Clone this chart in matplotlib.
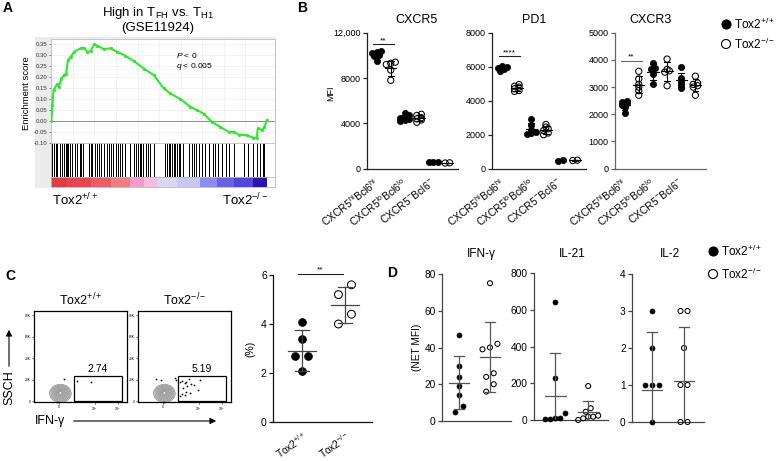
import matplotlib
matplotlib.use('Agg')
import matplotlib.pyplot as plt
import numpy as np
from matplotlib.patches import Ellipse, Rectangle
from matplotlib.transforms import ScaledTranslation

W, H = 780, 461

plt.rcParams['font.family'] = ['Liberation Sans', 'DejaVu Sans']
plt.rcParams['mathtext.fontset'] = 'custom'
plt.rcParams['mathtext.rm'] = 'Liberation Sans'
plt.rcParams['mathtext.it'] = 'Liberation Sans:italic'
plt.rcParams['mathtext.bf'] = 'Liberation Sans:bold'

# ---- A: GSEA running enrichment score
gsea_rank = [0, 0.005, 0.01, 0.025, 0.035, 0.046, 0.059, 0.069, 0.077, 0.09, 0.105, 0.136,
             0.151, 0.167, 0.182, 0.198, 0.213, 0.244, 0.275, 0.306, 0.344, 0.383, 0.429,
             0.475, 0.522, 0.552, 0.599, 0.645, 0.676, 0.707, 0.745, 0.784, 0.823, 0.846,
             0.869, 0.907, 0.938, 0.954, 0.958, 0.977, 0.989, 1.0]
gsea_es = [0, 0.072, 0.141, 0.167, 0.156, 0.194, 0.210, 0.217, 0.278, 0.294, 0.316, 0.332,
           0.335, 0.316, 0.319, 0.350, 0.344, 0.329, 0.332, 0.316, 0.298, 0.274, 0.240,
           0.210, 0.149, 0.126, 0.100, 0.065, 0.049, 0.034, -0.004, -0.027, -0.050, -0.050,
           -0.062, -0.065, -0.076, -0.077, -0.034, -0.042, -0.027, 0.003]
gsea_hits = [0.005, 0.012, 0.020, 0.028, 0.040, 0.051, 0.059, 0.066, 0.071, 0.077, 0.086,
             0.097, 0.108, 0.120, 0.133, 0.139, 0.148, 0.174, 0.182, 0.190, 0.201, 0.210,
             0.221, 0.231, 0.244, 0.256, 0.267, 0.275, 0.287, 0.298, 0.309, 0.318, 0.329,
             0.344, 0.367, 0.383, 0.395, 0.401, 0.410, 0.418, 0.426, 0.437, 0.448, 0.457,
             0.478, 0.529, 0.537, 0.545, 0.552, 0.560, 0.568, 0.576, 0.583, 0.591, 0.599,
             0.611, 0.637, 0.653, 0.664, 0.673, 0.684, 0.699, 0.715, 0.730, 0.750, 0.761,
             0.772, 0.792, 0.812, 0.826, 0.846, 0.892, 0.915, 0.938, 0.954, 0.969, 0.980, 0.989]
rank_edges = [0, 0.074, 0.182, 0.275, 0.367, 0.43, 0.49, 0.583, 0.691, 0.769, 0.846, 0.938, 1.0]
rank_colors = ['#e63a3e', '#ea4450', '#ee5a66', '#f27c86', '#f29ccc', '#f6bce2',
               '#dcd6f6', '#c8c6f6', '#8c8cf2', '#6a60ea', '#5444de', '#2a12b4']

# ---- B: MFI per population
b_groups = ['CXCR5$^{\\mathrm{hi}}$Bcl6$^{\\mathrm{hi}}$',
            'CXCR5$^{\\mathrm{lo}}$Bcl6$^{\\mathrm{lo}}$',
            'CXCR5$^{-}$Bcl6$^{-}$']
cxcr5_wt = [[10400, 10300, 10200, 10000, 9900, 9500], [4900, 4700, 4600, 4500, 4400, 4300, 4200], [600, 600, 550]]
cxcr5_ko = [[9400, 9300, 9200, 8700, 7800], [4800, 4700, 4500, 4400, 4300, 4100], [500, 520]]
pd1_wt = [[6050, 6000, 5950, 5900, 5850, 5750], [2900, 2550, 2300, 2150, 2100, 2050], [500, 480]]
pd1_ko = [[4950, 4850, 4800, 4700, 4600, 4550], [2600, 2450, 2350, 2250, 2100, 2000], [500, 480]]
cxcr3_wt = [[2500, 2450, 2400, 2350, 2250, 2050], [3900, 3700, 3650, 3480, 3100], [3750, 3350, 3250, 3150, 3050, 2950]]
cxcr3_ko = [[3580, 3300, 3100, 3000, 2870, 2700], [4030, 3650, 3600, 3550, 3050], [3400, 3150, 3100, 3050, 3000, 2700]]

# ---- C: flow plots and % IFN-g+
flow_wt_x = [2.61, 3.19, 3.84, 2.33]
flow_wt_y = [20.6, 18.8, 18.2, -0.5]
flow_ko_x = [2.08, 2.31, 2.93, 3.00, 3.15, 3.25, 3.37, 3.44, 3.55, 3.48, 3.63, 3.29, 3.44,
             3.78, 3.96, 3.61, 4.03, 3.37, 3.25, 3.15, 2.45]
flow_ko_y = [20.6, 19.7, 21.8, 19.4, 17.5, 18.8, 16.6, 18.1, 20.6, 14.4, 15.7, 12.0, 8.9,
             15.0, 10.4, 7.3, 19.7, 5.8, 6.5, 4.9, -0.5]
flow_pct = ['2.74', '5.19']
pct_wt = [4.1, 3.4, 2.7, 2.7, 2.1]
pct_ko = [5.6, 5.2, 4.4, 4.0]
pct_mean = [2.91, 4.78]
pct_sd = [0.84, 0.72]

# ---- D: cytokine NET MFI
ifn_wt = [47, 30, 24, 19, 14, 8, 5]
ifn_ko = [75, 42, 40, 39, 26, 24, 20, 16]
ifn_mean = [20.9, 35.0]
ifn_sd = [14.5, 19.0]
il21_wt = [640, 231, 36, 9, 4, 4, 9]
il21_ko = [185, 64, 45, 24, 18, 18, 9, 0]
il21_mean = [131, 42]
il21_sd = [236, 63]
il2_wt = [3, 2, 1, 1, 1, 0]
il2_ko = [3, 3, 2, 1, 1, 0, 0]
il2_mean = [0.86, 1.12]
il2_sd = [1.58, 1.45]

WT = 'Tox2$^{+/+}$'
KO = 'Tox2$^{-/-}$'


def px_rect(x, y, w, h):
    return [x / W, 1 - (y + h) / H, w / W, h / H]


def style_prism(ax, color='#222222', labelsize=6.5):
    for s in ['top', 'right']:
        ax.spines[s].set_visible(False)
    for s in ['left', 'bottom']:
        ax.spines[s].set_color(color)
        ax.spines[s].set_linewidth(0.9)
    ax.tick_params(axis='y', direction='out', length=3, width=0.9, color=color,
                   labelsize=labelsize, pad=1.5)
    ax.patch.set_alpha(0)


def swarm(ax, x0, vals, tol, gap):
    tr = ax.transData
    ys = [tr.transform((x0, v))[1] for v in vals]
    order = np.argsort(ys)
    rows, row = [], []
    for i in order:
        if row and ys[i] - ys[row[0]] < tol:
            row.append(i)
        else:
            if row:
                rows.append(row)
            row = [i]
    rows.append(row)
    offs = np.zeros(len(vals))
    for r in rows:
        for k, i in enumerate(r):
            offs[i] = (k - (len(r) - 1) / 2) * gap
    px0 = tr.transform((x0, 0))[0]
    inv = tr.inverted()
    return [inv.transform((px0 + o, 0))[0] for o in offs]


def dots(ax, x0, vals, filled, size, tol, gap):
    xs = swarm(ax, x0, vals, tol, gap)
    if filled:
        ax.scatter(xs, vals, s=size, c='black', edgecolors='black', linewidths=0.5,
                   zorder=3, clip_on=False)
    else:
        ax.scatter(xs, vals, s=size, facecolors='none', edgecolors='black', linewidths=0.75,
                   zorder=3, clip_on=False)


def mean_sd(ax, x, m, s, hw, cw, color='#333333', lw=0.9):
    ax.plot([x - hw, x + hw], [m, m], color=color, lw=lw, zorder=4)
    ax.plot([x, x], [m - s, m + s], color=color, lw=lw, zorder=4)
    ax.plot([x - cw, x + cw], [m + s, m + s], color=color, lw=lw, zorder=4)
    ax.plot([x - cw, x + cw], [m - s, m - s], color=color, lw=lw, zorder=4)


def shift_labels(ax, dx_px, dy_px=0):
    for lbl in ax.get_xticklabels():
        lbl.set_transform(lbl.get_transform() +
                          ScaledTranslation(dx_px / 100, dy_px / 100, fig.dpi_scale_trans))


fig = plt.figure(figsize=(W / 100, H / 100), dpi=100)

# ================= A =================
bg = fig.add_axes(px_rect(35, 37, 241, 151))
bg.set_facecolor('#ebebeb')
bg.set_xticks([])
bg.set_yticks([])
for s in bg.spines.values():
    s.set_visible(False)

es_ax = fig.add_axes(px_rect(50.7, 39, 224.3, 104.3))
es_ax.set_facecolor('white')
es_ax.plot(gsea_rank, gsea_es, color='#2ee82e', lw=1.5, marker='s', ms=1.1, zorder=3)
es_ax.axhline(0, color='#8c8c8c', lw=0.7)
es_ax.set_xlim(-0.003, 1.038)
es_ax.set_ylim(-0.102, 0.375)
es_ax.set_yticks(np.arange(-0.10, 0.36, 0.05))
es_ax.set_yticklabels(['%.2f' % v for v in np.arange(-0.10, 0.36, 0.05)])
es_ax.set_xticks(np.arange(0.1, 1.0, 0.1))
es_ax.set_xticklabels([])
es_ax.tick_params(axis='y', labelsize=4.3, length=1.5, width=0.4, pad=1, colors='#333333')
es_ax.tick_params(axis='x', length=0)
es_ax.grid(color='#eeeeee', lw=0.5)
for s in es_ax.spines.values():
    s.set_color('#bdbdbd')
    s.set_linewidth(0.6)

hit_ax = fig.add_axes(px_rect(50.7, 143.3, 224.3, 33.4))
hit_ax.vlines(gsea_hits, 0, 1, color='black', lw=0.7)
hit_ax.set_xlim(-0.003, 1.038)
hit_ax.set_ylim(0, 1)
hit_ax.set_xticks([])
hit_ax.set_yticks([])
for s in hit_ax.spines.values():
    s.set_color('#bdbdbd')
    s.set_linewidth(0.6)

bar_ax = fig.add_axes(px_rect(50.7, 176.7, 224.3, 10))
for i, c in enumerate(rank_colors):
    bar_ax.axvspan(rank_edges[i], rank_edges[i + 1], color=c, lw=0)
bar_ax.set_xlim(-0.003, 1.038)
bar_ax.set_xticks([])
bar_ax.set_yticks([])
for s in bar_ax.spines.values():
    s.set_color('#bdbdbd')
    s.set_linewidth(0.6)

# ================= B =================
def b_panel(x0, w, title, tx, wt, ko, ymax, yticks, yticklabels, sig_y, sig_txt, color):
    ax = fig.add_axes(px_rect(x0, 32.7, w, 136))
    ax.set_xlim(-0.7, 5.75)
    ax.set_ylim(0, ymax)
    style_prism(ax, color)
    for i in range(3):
        for j, (vals, filled) in enumerate([(wt[i], True), (ko[i], False)]):
            x = 2 * i + j
            dots(ax, x, vals, filled, 20, 2.5, 4.5)
            mean_sd(ax, x, np.mean(vals), np.std(vals, ddof=1), 0.4, 0.2, 'black', 0.8)
    ax.plot([-0.25, 1.2], [sig_y, sig_y], color=color, lw=0.8, clip_on=False)
    ax.text(0.47, sig_y, sig_txt, ha='center', va='bottom', fontsize=6)
    ax.set_yticks(yticks)
    ax.set_yticklabels(yticklabels)
    ax.set_xticks([0.5, 2.5, 4.5])
    ax.set_xticklabels(b_groups, rotation=38, ha='right', va='top',
                       rotation_mode='anchor', fontsize=7.5)
    ax.tick_params(axis='x', length=0, pad=5)
    shift_labels(ax, -11)
    fig.text(tx / W, 1 - 20 / H, title, ha='center', va='center', fontsize=9)
    return ax


b_panel(366.7, 91.3, 'CXCR5', 416, cxcr5_wt, cxcr5_ko, 12000, [0, 4000, 8000, 12000],
        ['0', '4000', '8000', '12,000'], 11000, '**', '#222222')
b_panel(492, 94, 'PD1', 534, pd1_wt, pd1_ko, 8000, [0, 2000, 4000, 6000, 8000],
        ['0', '2000', '4000', '6000', '8000'], 6600, '****', '#222222')
b_panel(614.7, 91.3, 'CXCR3', 651, cxcr3_wt, cxcr3_ko, 5000, [0, 1000, 2000, 3000, 4000, 5000],
        ['0', '1000', '2000', '3000', '4000', '5000'], 3970, '**', '#666666')

# ================= C =================
for k, (x0, fx, fy) in enumerate([(34, flow_wt_x, flow_wt_y), (138, flow_ko_x, flow_ko_y)]):
    fa = fig.add_axes(px_rect(x0, 310.7, 93, 91.6))
    fa.set_xlim(1.3, 5.42)
    fa.set_ylim(-1, 84)
    base = Ellipse((2.47, 7.3), 0.96, 17, facecolor='#d2d2d2', edgecolor='none')
    fa.add_patch(base)
    for sc in [1.0, 0.88, 0.77, 0.66, 0.56, 0.46, 0.37, 0.28, 0.2, 0.12]:
        fa.add_patch(Ellipse((2.47, 7.3 + (1 - sc) * 0.8), 0.96 * sc, 17 * sc,
                             facecolor='none', edgecolor='#8a8a8a', lw=0.45))
    fa.add_patch(Ellipse((2.47, 7.6), 0.08, 1.5, facecolor='white', edgecolor='none'))
    fa.scatter(fx, fy, s=1.6, c='black', lw=0, clip_on=False, zorder=3)
    fa.add_patch(Rectangle((3.06, 0.2), 2.15, 23.2, fill=False, lw=0.9, edgecolor='black'))
    fa.text(4.13, 25.5, flow_pct[k], ha='center', va='bottom', fontsize=7.5)
    fa.set_yticks([0, 20, 40, 60, 80])
    fa.set_yticklabels(['0', '20K', '40K', '60K', '80K'])
    fa.set_xticks([2.42, 4, 5])
    fa.set_xticklabels(['0', '10$^4$', '10$^5$'])
    fa.tick_params(labelsize=2.4, length=1.2, width=0.4, pad=0.8)
    for s in fa.spines.values():
        s.set_linewidth(0.9)
    fig.text((x0 + 47) / W, 1 - 300 / H, [WT, KO][k], ha='center', va='center', fontsize=9)

pa = fig.add_axes(px_rect(273, 275, 99, 147))
pa.set_xlim(-0.674, 1.63)
pa.set_ylim(0, 6)
style_prism(pa, '#111111', 7.5)
dots(pa, 0, pct_wt, True, 32, 11, 13)
dots(pa, 1, pct_ko, False, 32, 11, 13)
for i in range(2):
    mean_sd(pa, i, pct_mean[i], pct_sd[i], 0.33, 0.16, '#444444', 0.9)
pa.plot([-0.09, 0.95], [6.05, 6.05], color='#222222', lw=0.8, clip_on=False)
pa.text(0.43, 6.08, '**', ha='center', va='bottom', fontsize=6)
pa.set_yticks([0, 2, 4, 6])
pa.set_xticks([0, 1])
pa.set_xticklabels([WT, KO], rotation=35, ha='right', va='top', rotation_mode='anchor',
                   fontsize=7.3)
pa.tick_params(axis='x', length=0, pad=5)
pa.set_ylabel('(%)', fontsize=7.5, labelpad=4)

# ================= D =================
def d_panel(x0, y0, w, h, title, tx, wt, ko, mean, sd, ymax, yticks, xlim, tol, gap):
    ax = fig.add_axes(px_rect(x0, y0, w, h))
    ax.set_xlim(*xlim)
    ax.set_ylim(0, ymax)
    style_prism(ax, '#444444', 7.3)
    dots(ax, 0, wt, True, 13, tol, gap)
    dots(ax, 1, ko, False, 13, tol, gap)
    for i in range(2):
        mean_sd(ax, i, mean[i], sd[i], 0.32, 0.16, '#555555', 0.9)
    ax.set_yticks(yticks)
    ax.set_xticks([])
    fig.text(tx / W, 1 - 254 / H, title, ha='center', va='center', fontsize=8.5)
    return ax


ia = d_panel(442, 274, 69, 147, 'IFN-γ', 481, ifn_wt, ifn_ko, ifn_mean, ifn_sd, 80,
             [0, 20, 40, 60, 80], (-0.55, 1.68), 8, 7.5)
ia.set_ylabel('(NET MFI)', fontsize=7.3, labelpad=2)
d_panel(534, 273, 74, 147, 'IL-21', 572, il21_wt, il21_ko, il21_mean, il21_sd, 800,
        [0, 200, 400, 600, 800], (-0.64, 1.6), 8, 5)
d_panel(632, 274, 72, 148, 'IL-2', 670, il2_wt, il2_ko, il2_mean, il2_sd, 4,
        [0, 1, 2, 3, 4], (-0.64, 1.63), 8, 7)

# ================= overlay: labels, legends, arrows =================
ov = fig.add_axes([0, 0, 1, 1])
ov.set_xlim(0, W)
ov.set_ylim(H, 0)
ov.axis('off')

for lab, x, y in [('A', 8, 8), ('B', 302, 8), ('C', 10, 276), ('D', 392, 273)]:
    ov.text(x, y, lab, fontsize=10, fontweight='bold', ha='center', va='center')

ov.text(158, 13, 'High in T$_{\\mathrm{FH}}$ vs. T$_{\\mathrm{H1}}$', ha='center', va='center', fontsize=9.5)
ov.text(158, 28, '(GSE11924)', ha='center', va='center', fontsize=9.5)
ov.text(27, 93, 'Enrichment score', rotation=90, ha='center', va='center', fontsize=6.8)
ov.text(176, 55, '$P$ < 0', ha='left', va='center', fontsize=6)
ov.text(176, 66, '$q$ < 0.005', ha='left', va='center', fontsize=6)
ov.text(52, 200, WT, ha='left', va='center', fontsize=9.5)
ov.text(268, 200, KO, ha='right', va='center', fontsize=9.5)

ov.text(331, 93, 'MFI', rotation=90, ha='center', va='center', fontsize=6.5)

for y, filled, lab in [(24, True, WT), (44, False, KO)]:
    ov.scatter([726], [y], s=42, facecolors='black' if filled else 'none',
               edgecolors='black', linewidths=0.8)
    ov.text(734, y, lab, ha='left', va='center', fontsize=8.5)
for y, filled, lab in [(251, True, WT), (274, False, KO)]:
    ov.scatter([713], [y], s=42, facecolors='black' if filled else 'none',
               edgecolors='black', linewidths=0.8)
    ov.text(721, y, lab, ha='left', va='center', fontsize=8.5)

ov.text(9, 388, 'SSCH', rotation=90, ha='center', va='center', fontsize=9)
ov.annotate('', xy=(9, 327), xytext=(9, 369),
            arrowprops=dict(arrowstyle='-|>', lw=0.8, color='black', mutation_scale=9))
ov.text(35, 421, 'IFN-γ', ha='left', va='center', fontsize=9)
ov.annotate('', xy=(219, 421), xytext=(71, 421),
            arrowprops=dict(arrowstyle='-|>', lw=0.8, color='black', mutation_scale=9))

fig.savefig('out.png', dpi=100)
